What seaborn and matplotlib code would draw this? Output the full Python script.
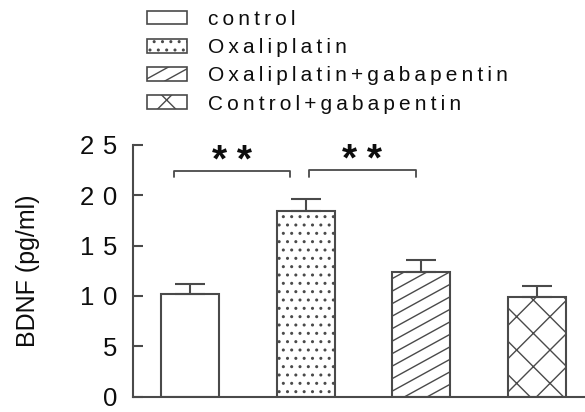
import matplotlib
matplotlib.use("Agg")
import matplotlib.pyplot as plt
import matplotlib.patches as mpatches
from matplotlib.collections import LineCollection
from matplotlib.transforms import IdentityTransform
import seaborn as sns
import pandas as pd

# ---- data ----
groups = ["control", "Oxaliplatin", "Oxaliplatin+gabapentin", "Control+gabapentin"]
means = [10.2, 18.4, 12.4, 9.85]
sems = [1.0, 1.2, 1.2, 1.15]
hatches = ["", "..", "", "x"]          # bar 3 gets a shallow diagonal hatch drawn below
shallow = [False, False, True, False]
y_ticks = [0, 5, 10, 15, 20, 25]
y_label = "BDNF (pg/ml)"
# significance brackets: (x_start, x_end, y_bar, y_end, label, y_label)
brackets = [(-0.14, 0.865, 22.35, 21.75, "**", 23.3),
            (1.025, 1.95, 22.5, 21.8, "**", 23.4)]


def spaced(s, sp="\u2009"):
    return sp.join(list(s))


sns.set_style("ticks")
plt.rcParams["font.family"] = ["Liberation Sans", "DejaVu Sans"]
plt.rcParams["hatch.linewidth"] = 1.0

edge = "#4a4a4a"
txt = "#0d0d0d"

fig = plt.figure(figsize=(5.85, 4.12), dpi=100)
ax = fig.add_axes([132.7 / 585, 15.3 / 412, (585 - 132.7) / 585, 252 / 412])

df = pd.DataFrame({"group": groups, "BDNF": means})
sns.barplot(data=df, x="group", y="BDNF", order=groups, color="white",
            edgecolor=edge, linewidth=1.5, width=0.5, errorbar=None, ax=ax,
            saturation=1)
bars = list(ax.patches)
for patch, h in zip(bars, hatches):
    patch.set_facecolor("white")
    patch.set_hatch(h)
    patch.set_edgecolor(edge)

ax.errorbar(range(len(groups)), means, yerr=[[0] * len(sems), sems], fmt="none",
            ecolor=edge, elinewidth=1.5, capsize=10.8, capthick=1.5, zorder=1)

ax.set_xlim(-0.495, 3.415)
ax.set_ylim(0, 25)
ax.set_yticks(y_ticks)
ax.set_yticklabels([spaced(str(t), "\u2004") for t in y_ticks], fontsize=18.5, color=txt)
ax.set_xticks([])
ax.set_xlabel("")
ax.set_ylabel(y_label, fontsize=18, color=txt)
ax.yaxis.set_label_coords(-0.204, 0.5)
ax.tick_params(axis="y", direction="in", length=7.5, width=1.5, color=edge, pad=11)
for s in ["top", "right"]:
    ax.spines[s].set_visible(False)
for s in ["left", "bottom"]:
    ax.spines[s].set_color(edge)
    ax.spines[s].set_linewidth(1.5)

for x0, x1, yb, ye, lab, ys in brackets:
    ax.plot([x0, x0, x1, x1], [ye, yb, yb, ye], color=edge, lw=1.3, clip_on=False)
    ax.text((x0 + x1) / 2, ys, spaced(lab, "\u2005"), ha="center", va="center",
            fontsize=28, fontweight="bold", color=txt)

handles = [mpatches.Patch(facecolor="white", edgecolor=edge, hatch=h, linewidth=1.2)
           for h in hatches]
leg = fig.legend(handles, [spaced(g) for g in groups], loc="upper left",
                 bbox_to_anchor=(147 / 585, 1 - 10 / 412), frameon=False, fontsize=15,
                 handlelength=1.92, handleheight=0.63, handletextpad=1.0,
                 labelspacing=0.44, borderpad=0, borderaxespad=0, labelcolor=txt)

# shallow diagonal hatch lines, clipped to the patch outline
fig.canvas.draw()


def add_shallow_hatch(patch, slope=0.55, step=12.5, lw=1.0, z=None):
    bb = patch.get_window_extent()
    w = bb.x1 - bb.x0
    segs = []
    c = bb.y0 - slope * w - step
    while c < bb.y1 + step:
        segs.append([(bb.x0, c), (bb.x1, c + slope * w)])
        c += step
    lc = LineCollection(segs, colors=edge, linewidths=lw, transform=IdentityTransform(),
                        zorder=patch.get_zorder() + 0.1 if z is None else z)
    lc.set_clip_path(patch)
    fig.add_artist(lc)


for patch, sh in zip(bars, shallow):
    if sh:
        add_shallow_hatch(patch)
for patch, sh in zip(leg.get_patches(), shallow):
    if sh:
        add_shallow_hatch(patch, step=12.0, z=10)

fig.savefig("out.png", dpi=100)
